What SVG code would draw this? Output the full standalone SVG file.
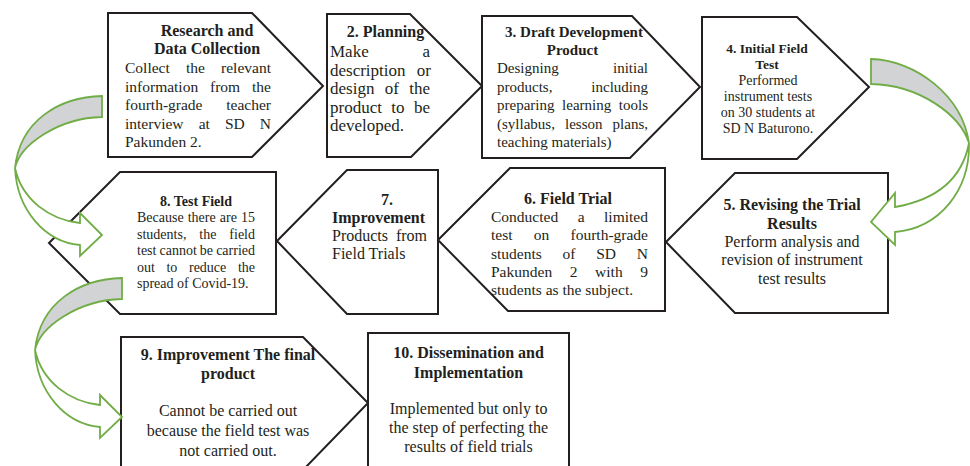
<svg xmlns="http://www.w3.org/2000/svg" width="970" height="466" viewBox="0 0 970 466">
<style>
.box{fill:#fff;stroke:#231f20;stroke-width:2;stroke-linejoin:miter}
text{font-family:"Liberation Serif","Times New Roman",serif;fill:#231f20}
.t{font-weight:bold;text-anchor:middle}
.c{text-anchor:middle}
.band{fill:#d1d3d4;stroke:#70ad47;stroke-width:1.8;stroke-linejoin:miter}
.body{fill:#fff;stroke:#70ad47;stroke-width:1.8;stroke-linejoin:miter}
</style>
<rect width="970" height="466" fill="#fff"/>

<g id="node1">
<polygon class="box" points="108,13 252,13 323,86 252,157 108,157"/>
<text class="t" font-size="16"><tspan x="207" y="35.5">Research and</tspan><tspan x="207" y="54">Data Collection</tspan></text>
<text font-size="15.5">
<tspan x="125" y="73">Collect</tspan><tspan x="185.96" y="73">the</tspan><tspan x="221.07" y="73">relevant</tspan>
<tspan x="125" y="91.5">information</tspan><tspan x="210.06" y="91.5">from</tspan><tspan x="252.06" y="91.5">the</tspan>
<tspan x="125" y="110">fourth-grade</tspan><tspan x="226.25" y="110">teacher</tspan>
<tspan x="125" y="128.5">interview</tspan><tspan x="198.63" y="128.5">at</tspan><tspan x="224.91" y="128.5">SD</tspan><tspan x="259.81" y="128.5">N</tspan>
<tspan x="125" y="147">Pakunden 2.</tspan>
</text>
</g>

<g id="node2">
<polygon class="box" points="327,14 410,14 482,86 411,157 327,157"/>
<text class="t" font-size="16" x="385.5" y="36.5">2. Planning</text>
<text font-size="17">
<tspan x="330" y="57">Make</tspan><tspan x="422.45" y="57">a</tspan>
<tspan x="330" y="75.5">description</tspan><tspan x="416.84" y="75.5">or</tspan>
<tspan x="330" y="94">design</tspan><tspan x="384.73" y="94">of</tspan><tspan x="409.23" y="94">the</tspan>
<tspan x="330" y="112.5">product</tspan><tspan x="391.33" y="112.5">to</tspan><tspan x="413.95" y="112.5">be</tspan>
<tspan x="330" y="131">developed.</tspan>
</text>
</g>

<g id="node3">
<polygon class="box" points="482,16 632,16 700,87 630,158 482,158"/>
<text class="t" font-size="15"><tspan x="574" y="37">3. Draft Development</tspan><tspan x="572.5" y="55">Product</tspan></text>
<text font-size="15">
<tspan x="497" y="73">Designing</tspan><tspan x="613" y="73">initial</tspan>
<tspan x="497" y="91.5">products,</tspan><tspan x="591.33" y="91.5">including</tspan>
<tspan x="497" y="110">preparing</tspan><tspan x="562.08" y="110">learning</tspan><tspan x="618.82" y="110">tools</tspan>
<tspan x="497" y="128.5">(syllabus,</tspan><tspan x="565" y="128.5">lesson</tspan><tspan x="612.6" y="128.5">plans,</tspan>
<tspan x="497" y="147">teaching materials)</tspan>
</text>
</g>

<g id="node4">
<polygon class="box" points="702,17 797,17 869,87 797,159 702,159"/>
<text class="t" font-size="13.5"><tspan x="767" y="53">4. Initial Field</tspan><tspan x="767" y="69">Test</tspan></text>
<text class="c" font-size="14"><tspan x="768" y="85">Performed</tspan><tspan x="768" y="101">instrument tests</tspan><tspan x="768" y="117">on 30 students at</tspan><tspan x="768" y="133">SD N Baturono.</tspan></text>
</g>

<g id="node5">
<polygon class="box" points="666,242 735,173 888,173 888,313 735,313"/>
<text class="t" font-size="16"><tspan x="792" y="210">5. Revising the Trial</tspan><tspan x="792" y="228.5">Results</tspan></text>
<text class="c" font-size="16"><tspan x="792" y="247">Perform analysis and</tspan><tspan x="792" y="265">revision of instrument</tspan><tspan x="792" y="283.5">test results</tspan></text>
</g>

<g id="node6">
<polygon class="box" points="438,240 510,168 665,168 665,311 508,311"/>
<text class="t" font-size="16" x="568" y="203.5">6. Field Trial</text>
<text font-size="15.5">
<tspan x="491" y="221.5">Conducted</tspan><tspan x="577.68" y="221.5">a</tspan><tspan x="604.07" y="221.5">limited</tspan>
<tspan x="491" y="240">test</tspan><tspan x="533.78" y="240">on</tspan><tspan x="570.53" y="240">fourth-grade</tspan>
<tspan x="491" y="258.5">students</tspan><tspan x="562.57" y="258.5">of</tspan><tspan x="596.24" y="258.5">SD</tspan><tspan x="636.81" y="258.5">N</tspan>
<tspan x="491" y="276.5">Pakunden</tspan><tspan x="569.73" y="276.5">2</tspan><tspan x="595.08" y="276.5">with</tspan><tspan x="640.25" y="276.5">9</tspan>
<tspan x="491" y="295">students as the subject.</tspan>
</text>
</g>

<g id="node7">
<polygon class="box" points="277,241 347,170 438,170 438,314 347,314"/>
<text class="t" font-size="16"><tspan x="387" y="205">7.</tspan><tspan x="378.5" y="222.5">Improvement</tspan></text>
<text font-size="16"><tspan x="332" y="240.5">Products</tspan><tspan x="395.9" y="240.5">from</tspan><tspan x="332" y="258.5">Field Trials</tspan></text>
</g>

<g id="node8">
<polygon class="box" points="49,243 120,172 276,172 276,314 120,314"/>
<text class="t" font-size="14" x="196" y="205.5">8. Test Field</text>
<text font-size="14">
<tspan x="137" y="222">Because</tspan><tspan x="187.74" y="222">there</tspan><tspan x="219.82" y="222">are</tspan><tspan x="241" y="222">15</tspan>
<tspan x="137" y="238.5">students,</tspan><tspan x="199.31" y="238.5">the</tspan><tspan x="229.34" y="238.5">field</tspan>
<tspan x="137" y="255">test</tspan><tspan x="159.5" y="255">cannot</tspan><tspan x="199.87" y="255">be</tspan><tspan x="216.14" y="255">carried</tspan>
<tspan x="137" y="271.5">out</tspan><tspan x="166.49" y="271.5">to</tspan><tspan x="188.98" y="271.5">reduce</tspan><tspan x="237.89" y="271.5">the</tspan>
<tspan x="137" y="288">spread of Covid-19.</tspan>
</text>
</g>

<g id="node9">
<polygon class="box" points="121,337 303,337 368,403 303,470 121,470"/>
<text class="t" font-size="16"><tspan x="228" y="360">9. Improvement The final</tspan><tspan x="228" y="379">product</tspan></text>
<text class="c" font-size="16"><tspan x="228" y="416">Cannot be carried out</tspan><tspan x="228" y="436">because the field test was</tspan><tspan x="228" y="456">not carried out.</tspan></text>
</g>

<g id="node10">
<polygon class="box" points="368,333 569,333 569,480 368,480"/>
<text class="t" font-size="16"><tspan x="468.5" y="357.5">10. Dissemination and</tspan><tspan x="468.5" y="377.5">Implementation</tspan></text>
<text class="c" font-size="16"><tspan x="468.5" y="413.5">Implemented but only to</tspan><tspan x="468.5" y="432.5">the step of perfecting the</tspan><tspan x="468.5" y="451.5">results of field trials</tspan></text>
</g>

<g id="connectors">
<g id="arrow-1-8">
<path class="body" d="M15,168 C17,210 45,242 80,245 L80,256 L102,235 L80,213 L80,223 C50,220 22,200 15,168 Z"/>
<path class="band" d="M102,96 C60,97 20,120 15,168 C20,145 58,118 102,117 Z"/>
</g>
<g id="arrow-4-5">
<path class="body" d="M969,143 C970,190 940,228 895,232 L895,245 L871,222 L895,193 L895,207 C935,200 962,180 969,143 Z"/>
<path class="band" d="M871,59 C915,60 962,95 969,143 C960,115 920,85 871,84 Z"/>
</g>
<g id="arrow-8-9" transform="translate(20,182)">
<path class="body" d="M15,168 C17,210 45,242 80,245 L80,256 L102,235 L80,213 L80,223 C50,220 22,200 15,168 Z"/>
<path class="band" d="M102,96 C60,97 20,120 15,168 C20,145 58,118 102,117 Z"/>
</g>
</g>
</svg>
